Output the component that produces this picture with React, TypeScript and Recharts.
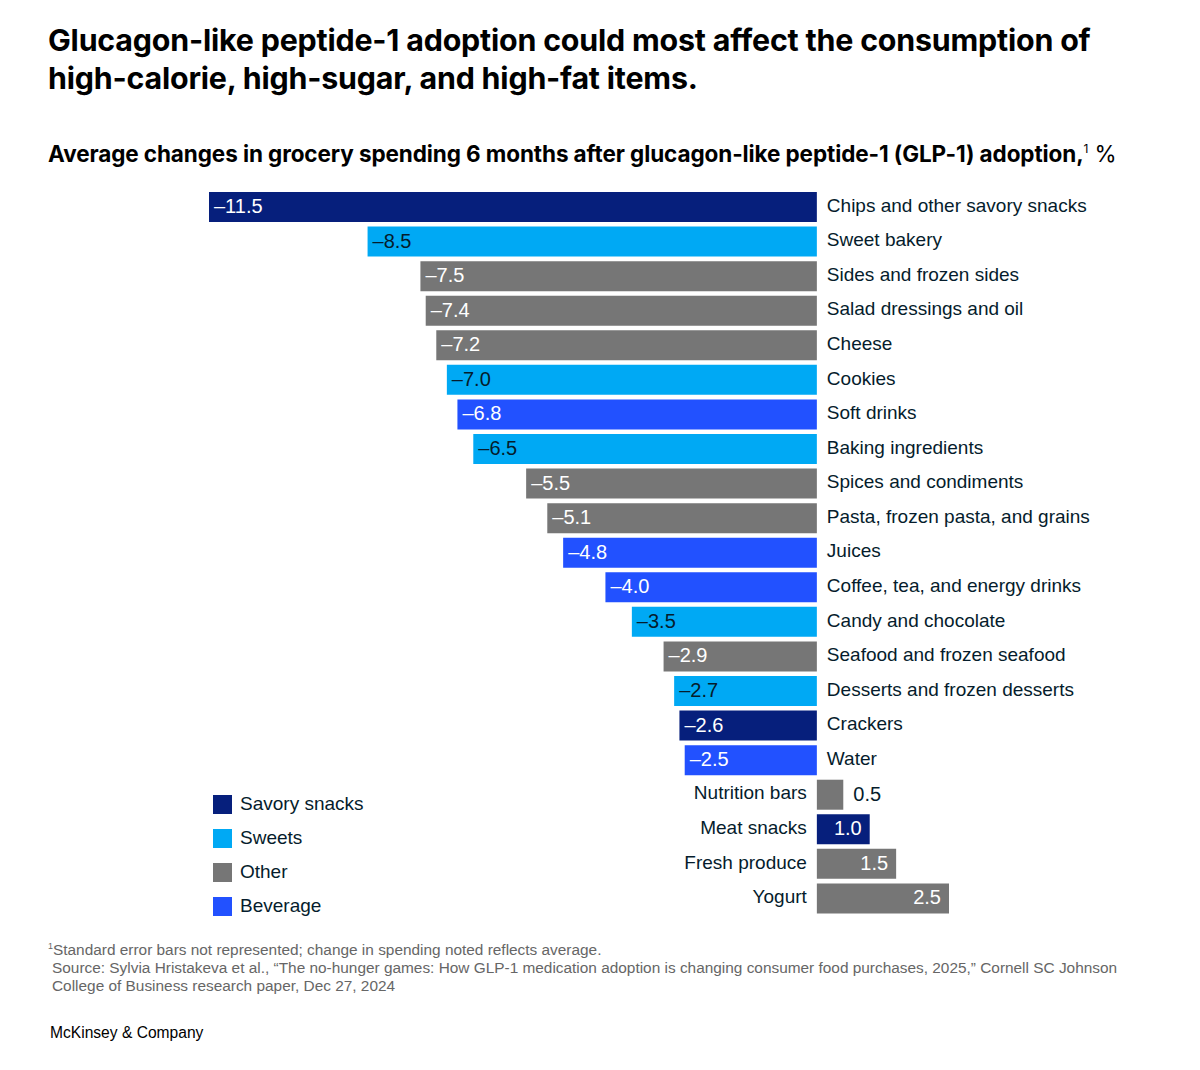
import React from 'react';
import { BarChart, Bar, XAxis, YAxis, Cell, LabelList } from 'recharts';

const categories = [
  'Chips and other savory snacks',
  'Sweet bakery',
  'Sides and frozen sides',
  'Salad dressings and oil',
  'Cheese',
  'Cookies',
  'Soft drinks',
  'Baking ingredients',
  'Spices and condiments',
  'Pasta, frozen pasta, and grains',
  'Juices',
  'Coffee, tea, and energy drinks',
  'Candy and chocolate',
  'Seafood and frozen seafood',
  'Desserts and frozen desserts',
  'Crackers',
  'Water',
  'Nutrition bars',
  'Meat snacks',
  'Fresh produce',
  'Yogurt',
];

const changes = [
  -11.5, -8.5, -7.5, -7.4, -7.2, -7.0, -6.8, -6.5, -5.5, -5.1, -4.8, -4.0, -3.5, -2.9, -2.7, -2.6, -2.5,
  0.5, 1.0, 1.5, 2.5,
];

const groups = [
  'Savory snacks', 'Sweets', 'Other', 'Other', 'Other', 'Sweets', 'Beverage', 'Sweets', 'Other', 'Other',
  'Beverage', 'Beverage', 'Sweets', 'Other', 'Sweets', 'Savory snacks', 'Beverage',
  'Other', 'Savory snacks', 'Other', 'Other',
];

const legendGroups = ['Savory snacks', 'Sweets', 'Other', 'Beverage'];

const COLORS: Record<string, string> = {
  'Savory snacks': '#061f7c',
  Sweets: '#00a9f4',
  Other: '#767676',
  Beverage: '#2251ff',
};

const DARK = '#051c2c';
const FONT = '"Liberation Sans", Arial, sans-serif';
const TITLE_FONT = 'Inter, "Liberation Sans", Arial, sans-serif';

const data = categories.map((name, i) => ({ name, value: changes[i], group: groups[i] }));

const fmt = (v: number) => (v < 0 ? '\u2013' + Math.abs(v).toFixed(1) : v.toFixed(1));

// category names sit next to the zero line, on the side away from the bar
const NameLabel = (props: any) => {
  const { x, y, width, height, index } = props;
  const v = changes[index];
  const left = Math.min(x, x + width);
  const right = Math.max(x, x + width);
  const cy = y + height / 2 - 2;
  if (v < 0) {
    return (
      <text x={right + 10} y={cy} dy="0.35em" fontSize={19} fill={DARK} fontFamily={FONT} textAnchor="start">
        {categories[index]}
      </text>
    );
  }
  return (
    <text x={left - 10} y={cy} dy="0.35em" fontSize={19} fill={DARK} fontFamily={FONT} textAnchor="end">
      {categories[index]}
    </text>
  );
};

const ValueLabel = (props: any) => {
  const { x, y, width, height, index } = props;
  const v = changes[index];
  const left = Math.min(x, x + width);
  const right = Math.max(x, x + width);
  const cy = y + height / 2 - 1;
  const textColor = groups[index] === 'Sweets' ? DARK : '#ffffff';
  if (v < 0) {
    return (
      <text x={left + 5} y={cy} dy="0.35em" fontSize={20} fill={textColor} fontFamily={FONT} textAnchor="start">
        {fmt(v)}
      </text>
    );
  }
  if (right - left < 40) {
    return (
      <text x={right + 10} y={cy} dy="0.35em" fontSize={20} fill={DARK} fontFamily={FONT} textAnchor="start">
        {fmt(v)}
      </text>
    );
  }
  return (
    <text x={right - 8} y={cy} dy="0.35em" fontSize={20} fill="#ffffff" fontFamily={FONT} textAnchor="end">
      {fmt(v)}
    </text>
  );
};

const App: React.FC = () => {
  return (
    <div style={{ position: 'absolute', left: 0, top: 0, width: 1200, height: 1070, background: '#fff', fontFamily: FONT, color: '#000' }}>
      <div style={{ position: 'absolute', left: 48, top: 21, width: 1140, fontFamily: TITLE_FONT, fontWeight: 700, fontSize: 30.4, lineHeight: '38px', letterSpacing: '-0.2px', whiteSpace: 'nowrap' }}>
        Glucagon-like peptide-1 adoption could most affect the consumption of
        <br />
        high-calorie, high-sugar, and high-fat items.
      </div>
      <div style={{ position: 'absolute', left: 48, top: 134, fontFamily: TITLE_FONT, fontSize: 22.5, lineHeight: '30px', whiteSpace: 'nowrap', letterSpacing: '-0.1px' }}>
        <span style={{ fontWeight: 700 }}>Average changes in grocery spending 6 months after glucagon-like peptide-1 (GLP-1) adoption,</span>
        <sup style={{ fontSize: 12 }}>1</sup>
        <span> %</span>
      </div>

      <div style={{ position: 'absolute', left: 0, top: 0 }}>
        <BarChart
          width={1200}
          height={1070}
          data={data}
          layout="vertical"
          margin={{ top: 190, right: 251, bottom: 154, left: 209 }}
          barSize={30}
        >
          <XAxis type="number" domain={[-11.5, 2.5]} hide />
          <YAxis type="category" dataKey="name" hide />
          <Bar dataKey="value" isAnimationActive={false}>
            {data.map((d, i) => (
              <Cell key={i} fill={COLORS[d.group]} />
            ))}
            <LabelList dataKey="value" content={ValueLabel} />
            <LabelList dataKey="name" content={NameLabel} />
          </Bar>
        </BarChart>
      </div>

      <div style={{ position: 'absolute', left: 213, top: 787 }}>
        {legendGroups.map((g) => (
          <div key={g} style={{ display: 'flex', alignItems: 'center', height: 34, fontSize: 19, color: DARK }}>
            <span style={{ display: 'inline-block', width: 19, height: 19, background: COLORS[g], marginRight: 8 }} />
            {g}
          </div>
        ))}
      </div>

      <div style={{ position: 'absolute', left: 48, top: 937, fontSize: 15.4, lineHeight: '18px', color: '#666' }}>
        <div><sup style={{ fontSize: 9 }}>1</sup>Standard error bars not represented; change in spending noted reflects average.</div>
        <div style={{ paddingLeft: 4 }}>
          Source: Sylvia Hristakeva et al., “The no-hunger games: How GLP-1 medication adoption is changing consumer food purchases, 2025,” Cornell SC Johnson
        </div>
        <div style={{ paddingLeft: 4 }}>College of Business research paper, Dec 27, 2024</div>
      </div>

      <div style={{ position: 'absolute', left: 50, top: 1024, fontSize: 15.6, color: '#000' }}>McKinsey &amp; Company</div>
    </div>
  );
};

export default App;
